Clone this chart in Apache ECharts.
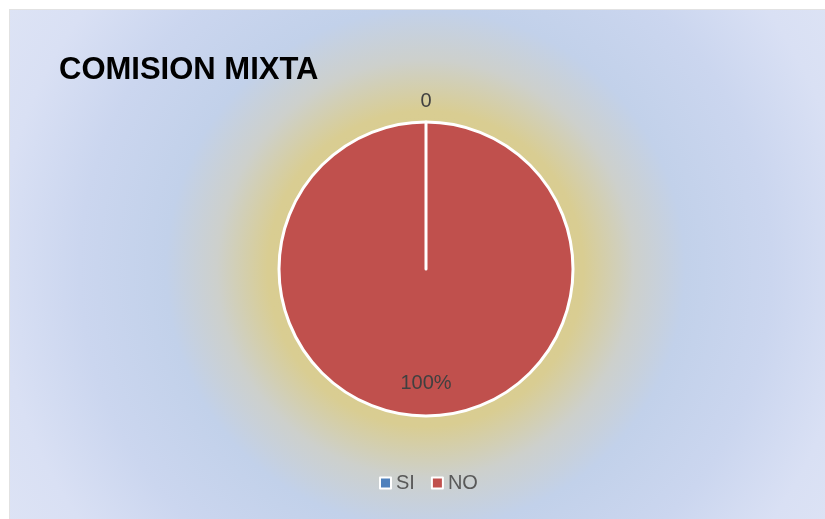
<!DOCTYPE html>
<html>
<head>
<meta charset="utf-8">
<script src="https://cdn.jsdelivr.net/npm/echarts@6/dist/echarts.min.js"></script>
<style>
  html, body { margin: 0; padding: 0; background: #fff; }
  #container {
    position: absolute;
    left: 9px;
    top: 9px;
    width: 816px;
    height: 510px;
    border-left: 1px solid #e2e2e2;
    border-top: 1px solid #e2e2e2;
    box-sizing: border-box;
  }
</style>
</head>
<body>
<div id="container"></div>
<script>
// datos
var categorias = ['SI', 'NO'];
var valores = [0, 1];
var colores = ['#4f81bd', '#c0504d'];

var chart = echarts.init(document.getElementById('container'));

// NO primero para que la linea del sector vacio (SI) quede encima
var datos = [
  {
    name: categorias[1], value: valores[1],
    itemStyle: { color: colores[1] },
    label: { formatter: '{s|}\n{v|{d}%}' }
  },
  {
    name: categorias[0], value: valores[0],
    itemStyle: { color: colores[0] },
    label: { formatter: '{v|{c}}\n{b2|}' }
  }
];

var option = {
  animation: false,
  backgroundColor: {
    type: 'radial',
    x: 0.51, y: 0.508, r: 1,
    colorStops: [
      { offset: 0, color: '#d8cc8a' },
      { offset: 0.31, color: '#d9cd92' },
      { offset: 0.41, color: '#cdd0cc' },
      { offset: 0.51, color: '#c2d1ea' },
      { offset: 0.68, color: '#cbd6ef' },
      { offset: 0.84, color: '#d9e0f4' },
      { offset: 1, color: '#dee4f5' }
    ]
  },
  title: {
    text: 'COMISION MIXTA',
    left: 44,
    top: 40,
    textStyle: {
      fontFamily: 'Liberation Sans',
      fontWeight: 'bold',
      fontSize: 31,
      color: '#000'
    }
  },
  legend: {
    data: categorias,
    bottom: 21,
    left: 364,
    icon: 'rect',
    itemWidth: 11,
    itemHeight: 11,
    itemGap: 16,
    selectedMode: false,
    textStyle: {
      fontFamily: 'Liberation Sans',
      fontSize: 20,
      color: '#595959'
    }
  },
  series: [{
    type: 'pie',
    center: [416, 259],
    radius: 147,
    startAngle: 90,
    clockwise: true,
    stillShowZeroSum: true,
    emphasis: { disabled: true },
    itemStyle: {
      borderColor: '#ffffff',
      borderWidth: 3
    },
    label: {
      show: true,
      position: 'inside',
      rich: {
        v: { fontFamily: 'Liberation Sans', fontSize: 20, color: '#404040', lineHeight: 22 },
        s: { lineHeight: 75 },
        b2: { lineHeight: 183 }
      }
    },
    labelLine: { show: false },
    data: datos
  }]
};

chart.setOption(option);
</script>
</body>
</html>
